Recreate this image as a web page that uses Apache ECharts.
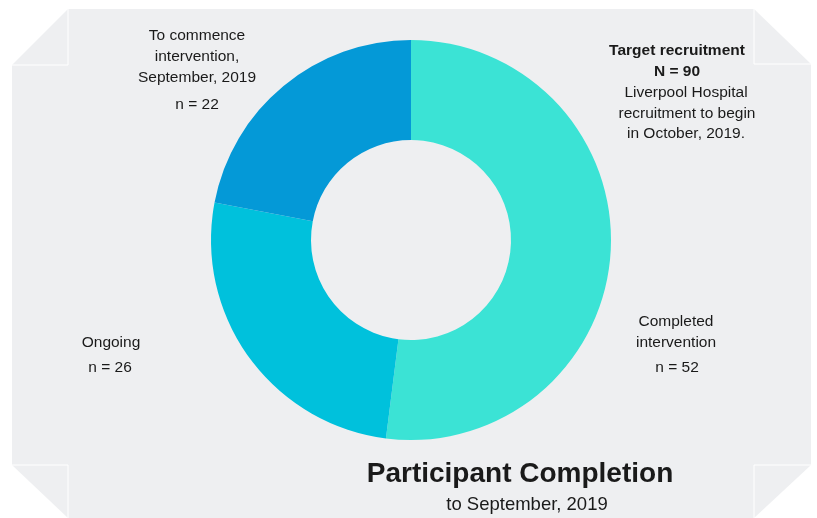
<!DOCTYPE html>
<html>
<head>
<meta charset="utf-8">
<script src="https://cdn.jsdelivr.net/npm/echarts@6/dist/echarts.min.js"></script>
<style>
html,body{margin:0;padding:0;background:#ffffff;}
#chart{width:817px;height:518px;}
</style>
</head>
<body>
<div id="chart"></div>
<script>
var categories = ['Completed intervention', 'Ongoing', 'To commence intervention, September, 2019'];
var values = [52, 26, 22];
var colors = ['#3be3d5', '#00c1dc', '#0499d7'];
var targetN = 90;
var titleText = 'Participant Completion';
var subtitleText = 'to September, 2019';

var chart = echarts.init(document.getElementById('chart'));
var FONT = '"Liberation Sans", Arial, sans-serif';
var TXT = '#1a1a1a';
var BG = '#eeeff1';
var DY = 2;

function line(x, y, s, opts) {
  opts = opts || {};
  return {
    type: 'text', x: x, y: y + DY, z: 10,
    style: {
      text: s,
      textAlign: 'center', textVerticalAlign: 'middle',
      font: (opts.bold ? 'bold ' : '') + (opts.size || 15.5) + 'px ' + FONT,
      fill: TXT
    }
  };
}

var graphics = [
  { type: 'polygon', z: 0, shape: { points: [[12,65],[68,9],[754,9],[811,64],[811,465],[754,518],[68,518],[12,465]] }, style: { fill: BG } },
  { type: 'polyline', z: 1, shape: { points: [[68,9],[68,65],[12,65]] }, style: { stroke: '#ffffff', lineWidth: 1, fill: null } },
  { type: 'polyline', z: 1, shape: { points: [[754,9],[754,64],[811,64]] }, style: { stroke: '#ffffff', lineWidth: 1, fill: null } },
  { type: 'polyline', z: 1, shape: { points: [[12,465],[68,465],[68,518]] }, style: { stroke: '#ffffff', lineWidth: 1, fill: null } },
  { type: 'polyline', z: 1, shape: { points: [[811,465],[754,465],[754,518]] }, style: { stroke: '#ffffff', lineWidth: 1, fill: null } },
  line(197, 34, 'To commence'),
  line(197, 55, 'intervention,'),
  line(197, 76, 'September, 2019'),
  line(197, 103, 'n = ' + values[2]),
  line(677, 49, 'Target recruitment', { bold: true }),
  line(677, 70, 'N = ' + targetN, { bold: true }),
  line(686, 91, 'Liverpool Hospital'),
  line(687, 112, 'recruitment to begin'),
  line(686, 132, 'in October, 2019.'),
  line(111, 341, 'Ongoing'),
  line(110, 366, 'n = ' + values[1]),
  line(676, 320, 'Completed'),
  line(676, 341, 'intervention'),
  line(677, 366, 'n = ' + values[0]),
  line(520, 472, titleText, { bold: true, size: 28 }),
  line(527, 503, subtitleText, { size: 18.5 })
];

chart.setOption({
  backgroundColor: '#ffffff',
  animation: false,
  graphic: graphics,
  series: [{
    type: 'pie',
    z: 5,
    center: [411, 240],
    radius: [100, 200],
    startAngle: 90,
    clockwise: true,
    label: { show: false },
    labelLine: { show: false },
    emphasis: { disabled: true },
    itemStyle: { borderWidth: 0 },
    data: categories.map(function (c, i) {
      return { name: c, value: values[i], itemStyle: { color: colors[i] } };
    })
  }]
});
</script>
</body>
</html>
